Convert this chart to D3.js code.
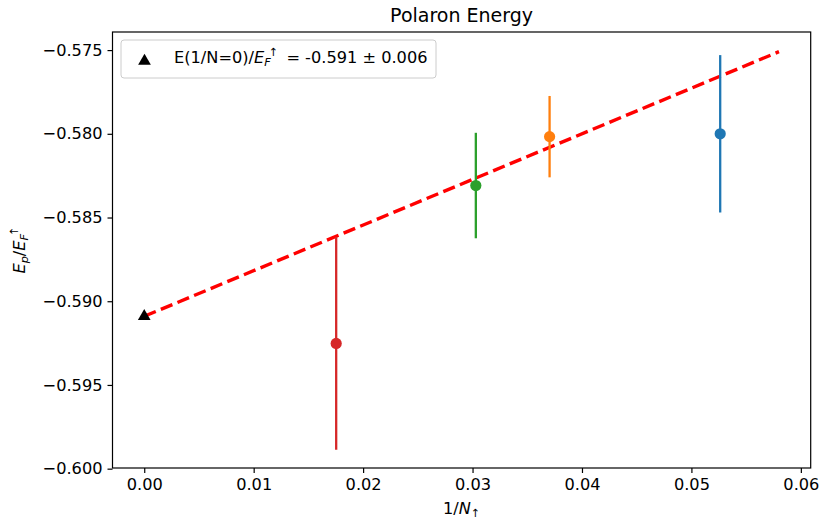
<!DOCTYPE html>
<html>
<head>
<meta charset="utf-8">
<script src="https://cdn.jsdelivr.net/npm/d3@7"></script>
<style>
  body { margin: 0; background: #fff; }
  svg { display: block; font-family: "DejaVu Sans", sans-serif; }
</style>
</head>
<body>
<svg id="chart" width="820" height="525"></svg>
<script>
// Finite-size polaron energies, one point per particle number N↑
const invN = [0.05263, 0.03704, 0.03030, 0.01754];
const energy = [-0.58000, -0.58017, -0.58309, -0.59252];
const errors = [0.00470, 0.00243, 0.00315, 0.00635];
const pointColors = ["#1f77b4", "#ff7f0e", "#2ca02c", "#d62728"];

// Linear extrapolation to 1/N → 0
const fitIntercept = -0.5909;
const fitSlope = 0.2725;
const fitX = [0, 0.058];

const xTicks = [0.00, 0.01, 0.02, 0.03, 0.04, 0.05, 0.06];
const yTicks = [-0.600, -0.595, -0.590, -0.585, -0.580, -0.575];

const svg = d3.select("#chart");
const plotL = 112.5, plotR = 810.7, plotT = 32, plotB = 468;

const x = d3.scaleLinear().domain([-0.0029, 0.0609]).range([plotL, plotR]);
const y = d3.scaleLinear().domain([-0.59996, -0.57392]).range([plotB, plotT]);

const tickFont = 16.2;
const fmtY = v => d3.format(".3f")(v).replace("-", "\u2212");

// Axes
const xAxis = d3.axisBottom(x).tickValues(xTicks).tickFormat(d3.format(".2f")).tickSizeInner(5).tickSizeOuter(0).tickPadding(5);
const yAxis = d3.axisLeft(y).tickValues(yTicks).tickFormat(fmtY).tickSizeInner(5).tickSizeOuter(0).tickPadding(5);

const gx = svg.append("g").attr("transform", `translate(0,${plotB})`).call(xAxis);
const gy = svg.append("g").attr("transform", `translate(${plotL},0)`).call(yAxis);
[gx, gy].forEach(g => {
  g.select(".domain").remove();
  g.selectAll(".tick line").attr("stroke", "#000").attr("stroke-width", 1.2);
  g.selectAll(".tick text").attr("fill", "#000").attr("font-size", tickFont).attr("font-family", "DejaVu Sans");
});

// Fit line
svg.append("line")
  .attr("x1", x(fitX[0])).attr("y1", y(fitIntercept + fitSlope * fitX[0]))
  .attr("x2", x(fitX[1])).attr("y2", y(fitIntercept + fitSlope * fitX[1]))
  .attr("stroke", "#ff0000").attr("stroke-width", 3.4)
  .attr("stroke-dasharray", "12.5,5.5");

// Error bars and points
const pts = invN.map((v, i) => ({ x: v, y: energy[i], e: errors[i], c: pointColors[i] }));
svg.selectAll("line.err").data(pts).enter().append("line")
  .attr("class", "err")
  .attr("x1", d => x(d.x)).attr("x2", d => x(d.x))
  .attr("y1", d => y(d.y - d.e)).attr("y2", d => y(d.y + d.e))
  .attr("stroke", d => d.c).attr("stroke-width", 2.3);
svg.selectAll("circle.pt").data(pts).enter().append("circle")
  .attr("class", "pt")
  .attr("cx", d => x(d.x)).attr("cy", d => y(d.y)).attr("r", 5.6)
  .attr("fill", d => d.c);

// Extrapolated value at 1/N = 0
const tri = d3.symbol().type(d3.symbolTriangle).size(70);
svg.append("path").attr("d", tri)
  .attr("transform", `translate(${x(0)},${y(fitIntercept)})`)
  .attr("fill", "#000");

// Frame
svg.append("rect").attr("x", plotL).attr("y", plotT)
  .attr("width", plotR - plotL).attr("height", plotB - plotT)
  .attr("fill", "none").attr("stroke", "#000").attr("stroke-width", 1.2);

// Title
svg.append("text").attr("x", (plotL + plotR) / 2).attr("y", 22)
  .attr("text-anchor", "middle").attr("font-size", 19).attr("fill", "#000")
  .text("Polaron Energy");

// X label: 1/N↑
const xl = svg.append("text").attr("x", (plotL + plotR) / 2).attr("y", 514)
  .attr("text-anchor", "middle").attr("font-size", tickFont).attr("fill", "#000");
xl.append("tspan").text("1/");
xl.append("tspan").attr("font-style", "italic").text("N");
xl.append("tspan").attr("font-size", tickFont * 0.7).attr("dy", 3).text("\u2191");

// Y label: E_p / E_F^↑
const yl = svg.append("text")
  .attr("transform", `translate(25,${(plotT + plotB) / 2}) rotate(-90)`)
  .attr("text-anchor", "middle").attr("font-size", tickFont).attr("fill", "#000");
yl.append("tspan").attr("font-style", "italic").text("E");
yl.append("tspan").attr("font-style", "italic").attr("font-size", tickFont * 0.7).attr("dy", 3).text("p");
yl.append("tspan").attr("dy", -3).text("/");
yl.append("tspan").attr("font-style", "italic").text("E");
yl.append("tspan").attr("font-style", "italic").attr("font-size", tickFont * 0.7).attr("dy", 3).text("F");
yl.append("tspan").attr("font-size", tickFont * 0.7).attr("dx", -2).attr("dy", -10).text("\u2191");

// Legend
const lg = svg.append("g");
lg.append("rect").attr("x", 121).attr("y", 40).attr("width", 315).attr("height", 38)
  .attr("rx", 3).attr("fill", "#fff").attr("fill-opacity", 0.8)
  .attr("stroke", "#cccccc").attr("stroke-width", 1);
lg.append("path").attr("d", tri).attr("transform", "translate(144.5,61)").attr("fill", "#000");
const lt = lg.append("text").attr("x", 174).attr("y", 62.5).attr("font-size", tickFont).attr("fill", "#000");
lt.append("tspan").text("E(1/N=0)/");
lt.append("tspan").attr("font-style", "italic").text("E");
lt.append("tspan").attr("font-style", "italic").attr("font-size", tickFont * 0.7).attr("dy", 3).text("F");
lt.append("tspan").attr("font-size", tickFont * 0.7).attr("dx", -2).attr("dy", -10).text("\u2191");
lt.append("tspan").attr("dy", 7).text("\u2002= -0.591 \u00b1 0.006");
</script>
</body>
</html>
